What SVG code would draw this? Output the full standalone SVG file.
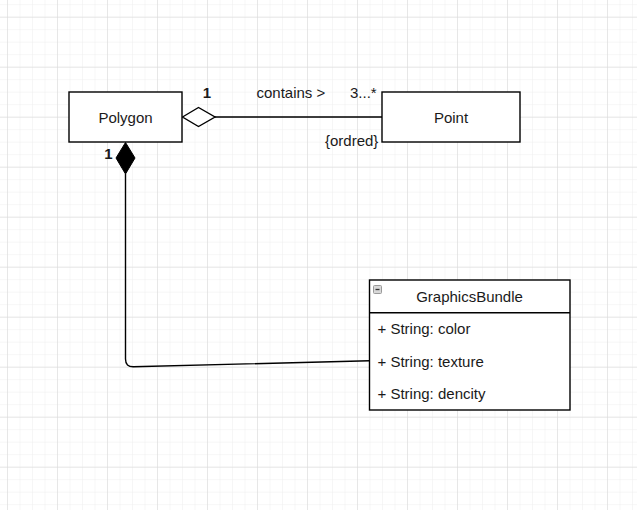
<svg xmlns="http://www.w3.org/2000/svg" width="637" height="510" viewBox="0 0 637 510">
  <defs>
    <pattern id="minor" x="7" y="4.2" width="12.5" height="12.5" patternUnits="userSpaceOnUse">
      <path d="M0 0 H12.5 M0 0 V12.5" fill="none" stroke="#eeeeee" stroke-width="1"/>
    </pattern>
    <pattern id="major" x="7" y="16.7" width="50" height="50" patternUnits="userSpaceOnUse">
      <path d="M0 0 H50 M0 0 V50" fill="none" stroke="#d8d8d8" stroke-width="1"/>
    </pattern>
    <style>
      text { font-family: "Liberation Sans", Arial, sans-serif; font-size: 15px; fill: #1a1a1a; }
      .box { fill: #ffffff; stroke: #000000; stroke-width: 1.4; }
      .edge { fill: none; stroke: #000000; stroke-width: 1.4; }
      .mid { text-anchor: middle; }
      .b { font-weight: bold; }
    </style>
  </defs>
  <rect x="0" y="0" width="637" height="510" fill="#ffffff"/>
  <rect x="0" y="0" width="637" height="510" fill="url(#minor)"/>
  <rect x="0" y="0" width="637" height="510" fill="url(#major)"/>

  <g id="connectors">
    <g id="edge-aggregation">
      <line class="edge" x1="215" y1="117" x2="382" y2="117"/>
      <polygon points="182.5,117 198.5,107.5 215,117 198.5,126.5" fill="#ffffff" stroke="#000000" stroke-width="1.4"/>
      <text x="207" y="97.5" class="mid b">1</text>
      <text x="256.5" y="97.5">contains &gt;</text>
      <text x="350" y="97.5">3...*</text>
      <text x="325" y="146">{ordred}</text>
    </g>
    <g id="edge-composition">
      <path class="edge" d="M125.5 174 L125.5 359 Q125.5 367 133.5 366.8 L369.5 360.7"/>
      <polygon points="125.5,142.5 135,158 125.5,174 116,158" fill="#000000" stroke="#000000" stroke-width="1"/>
      <text x="108.5" y="158.5" class="mid b">1</text>
    </g>
  </g>

  <g id="node-polygon">
    <rect class="box" x="69" y="92" width="113" height="50"/>
    <text x="125.5" y="123" class="mid">Polygon</text>
  </g>

  <g id="node-point">
    <rect class="box" x="382" y="92" width="138" height="50"/>
    <text x="451" y="123" class="mid">Point</text>
  </g>

  <g id="node-graphicsbundle">
    <rect class="box" x="369.5" y="280" width="200.5" height="130"/>
    <line x1="369.5" y1="312.7" x2="570" y2="312.7" stroke="#000000" stroke-width="1.4"/>
    <rect x="373.5" y="285.5" width="8" height="8" rx="1" fill="#d8d8d8" stroke="#9a9a9a" stroke-width="1"/>
    <line x1="375.5" y1="289.5" x2="379.5" y2="289.5" stroke="#333333" stroke-width="1.3"/>
    <text x="469.5" y="302" class="mid">GraphicsBundle</text>
    <text x="377.5" y="334">+ String: color</text>
    <text x="377.5" y="366.7">+ String: texture</text>
    <text x="377.5" y="399.3">+ String: dencity</text>
  </g>
</svg>
